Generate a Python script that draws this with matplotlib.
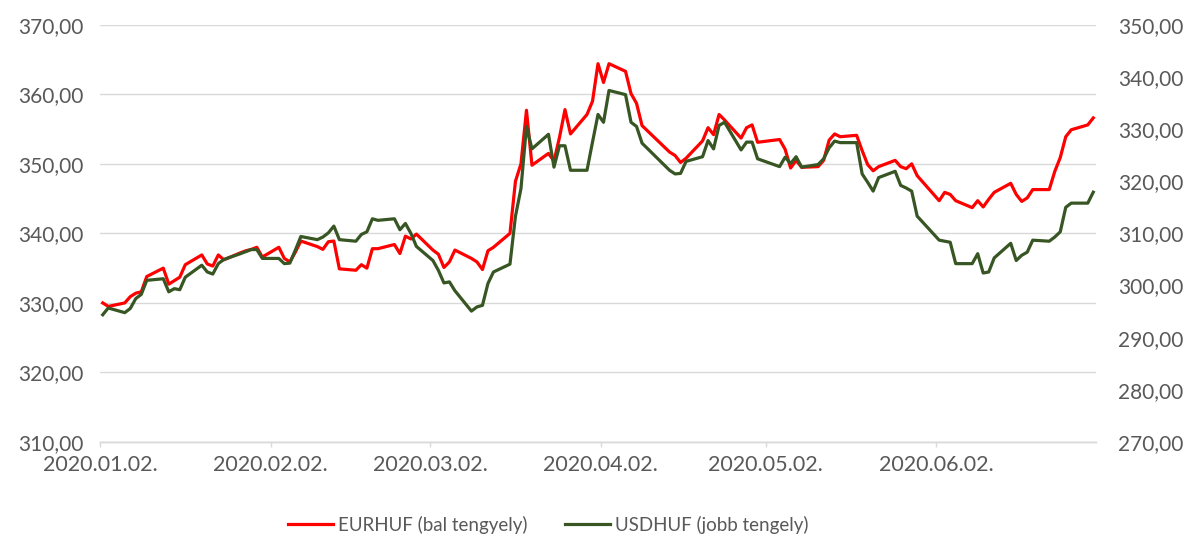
import numpy as np
import pandas as pd
import matplotlib
matplotlib.use("Agg")
import matplotlib.pyplot as plt
import matplotlib.dates as mdates
from matplotlib.ticker import FuncFormatter, MultipleLocator

plt.rcParams['font.family'] = ['Lato', 'DejaVu Sans']

# business days, 2020 H1
dates = [
    "01-02", "01-03", "01-06", "01-07", "01-08", "01-09", "01-10", "01-13", "01-14", "01-15",
    "01-16", "01-17", "01-20", "01-21", "01-22", "01-23", "01-24", "01-27", "01-28", "01-29",
    "01-30", "01-31",
    "02-03", "02-04", "02-05", "02-06", "02-07", "02-10", "02-11", "02-12", "02-13", "02-14",
    "02-17", "02-18", "02-19", "02-20", "02-21", "02-24", "02-25", "02-26", "02-27", "02-28",
    "03-02", "03-03", "03-04", "03-05", "03-06", "03-09", "03-10", "03-11", "03-12", "03-13",
    "03-16", "03-17", "03-18", "03-19", "03-20", "03-23", "03-24", "03-25", "03-26", "03-27",
    "03-30", "03-31",
    "04-01", "04-02", "04-03", "04-06", "04-07", "04-08", "04-09", "04-14", "04-15", "04-16",
    "04-17", "04-20", "04-21", "04-22", "04-23", "04-24", "04-27", "04-28", "04-29", "04-30",
    "05-04", "05-05", "05-06", "05-07", "05-08", "05-11", "05-12", "05-13", "05-14", "05-15",
    "05-18", "05-19", "05-20", "05-21", "05-22", "05-25", "05-26", "05-27", "05-28", "05-29",
    "06-02", "06-03", "06-04", "06-05", "06-08", "06-09", "06-10", "06-11", "06-12", "06-15",
    "06-16", "06-17", "06-18", "06-19", "06-22", "06-23", "06-24", "06-25", "06-26", "06-29",
    "06-30",
]

eurhuf = [
    330.0, 329.5, 330.0, 330.9, 331.4, 331.6, 333.8, 335.0, 332.7, 333.2,
    333.7, 335.5, 336.9, 335.6, 335.3, 336.9, 336.2, 337.2, 337.5, 337.7,
    338.0, 336.6,
    338.0, 336.4, 335.9, 337.3, 338.9, 338.1, 337.7, 338.8, 338.9, 334.9,
    334.7, 335.5, 335.0, 337.8, 337.8, 338.4, 337.1, 339.6, 339.2, 339.9,
    337.6, 337.0, 335.1, 335.9, 337.6, 336.4, 335.9, 334.8, 337.5, 338.0,
    340.0, 347.5, 350.0, 357.7, 349.8, 351.5, 350.4, 353.8, 357.8, 354.3,
    357.1, 359.0,
    364.4, 361.7, 364.4, 363.3, 360.1, 358.7, 355.5, 351.7, 351.2, 350.2,
    350.8, 353.3, 355.2, 354.2, 357.1, 356.3, 353.7, 355.2, 355.6, 353.1,
    353.5, 352.1, 349.4, 350.5, 349.5, 349.6, 350.5, 353.4, 354.3, 353.9,
    354.1, 351.9, 349.9, 349.0, 349.6, 350.5, 349.6, 349.3, 350.0, 348.3,
    344.7, 345.9, 345.6, 344.7, 343.7, 344.7, 343.8, 344.9, 345.9, 347.2,
    345.6, 344.6, 345.1, 346.3, 346.3, 348.9, 350.9, 353.9, 354.9, 355.6,
    356.6,
]

usdhuf = [
    294.4, 295.7, 294.8, 295.6, 297.5, 298.3, 301.0, 301.3, 298.8, 299.4,
    299.2, 301.6, 303.9, 302.6, 302.2, 304.2, 305.0, 306.1, 306.5, 306.9,
    306.9, 305.2,
    305.2, 304.2, 304.3, 306.8, 309.4, 308.8, 309.3, 310.1, 311.4, 308.8,
    308.5, 309.8, 310.3, 312.8, 312.5, 312.8, 310.7, 311.9, 310.0, 307.5,
    304.8, 302.9, 300.5, 300.7, 299.0, 295.1, 295.9, 296.2, 300.4, 302.6,
    304.1, 313.3, 318.6, 330.5, 326.2, 329.0, 322.7, 326.8, 326.8, 322.1,
    322.1, 327.5,
    332.8, 331.3, 337.4, 336.6, 331.3, 330.5, 327.3, 322.1, 321.4, 321.5,
    323.8, 324.7, 327.8, 326.2, 330.7, 331.3, 326.0, 327.5, 327.5, 324.3,
    322.8, 324.6, 323.4, 324.7, 322.7, 323.2, 324.3, 326.4, 327.7, 327.4,
    327.4, 321.4, 319.8, 318.1, 320.7, 321.9, 319.2, 318.7, 318.1, 313.3,
    308.7, 308.5, 308.3, 304.2, 304.2, 306.1, 302.4, 302.6, 305.3, 308.1,
    304.8, 305.8, 306.4, 308.7, 308.5, 309.3, 310.3, 315.0, 315.8, 315.8,
    317.9,
]

tick_dates = ["2020-01-02", "2020-02-02", "2020-03-02", "2020-04-02", "2020-05-02", "2020-06-02"]

# excel date axis puts each point in the middle of its day
x = pd.to_datetime(["2020-" + d for d in dates]) + pd.Timedelta(hours=12)

text_col = "#595959"
grid_col = "#D9D9D9"

fig = plt.figure(figsize=(11.89, 5.38), dpi=100)
ax = fig.add_axes([0.0841, 0.1784, 0.9218 - 0.0841, 0.954 - 0.1784])
ax2 = ax.twinx()

l1, = ax.plot(x, eurhuf, color="#FF0000", lw=2.3, label="EURHUF (bal tengyely)")
l2, = ax2.plot(x, usdhuf, color="#375623", lw=2.3, label="USDHUF (jobb tengely)")

ax.set_xlim(pd.Timestamp("2020-01-02"), pd.Timestamp("2020-07-01"))
ax.set_ylim(310, 370)
ax2.set_ylim(270, 350)
ax.yaxis.set_major_locator(MultipleLocator(10))
ax2.yaxis.set_major_locator(MultipleLocator(10))

fmt = FuncFormatter(lambda v, p: f"{v:.2f}".replace(".", ","))
ax.yaxis.set_major_formatter(fmt)
ax2.yaxis.set_major_formatter(fmt)

ax.set_xticks(pd.to_datetime(tick_dates))
ax.xaxis.set_major_formatter(mdates.DateFormatter("%Y.%m.%d."))

ax.grid(axis="y", color=grid_col, lw=1.0)
ax.set_axisbelow(True)

for a in (ax, ax2):
    for s in ("top", "left", "right"):
        a.spines[s].set_visible(False)
    a.spines["bottom"].set_color(grid_col)
    a.spines["bottom"].set_linewidth(1.0)

# pads in points (px * 0.72)
ax.tick_params(axis="y", length=0, pad=12, labelsize=15, labelcolor=text_col)
ax2.tick_params(axis="y", length=0, pad=16, labelsize=15, labelcolor=text_col)
ax.tick_params(axis="x", length=3.6, width=1.0, color=grid_col, pad=6,
               labelsize=15.5, labelcolor=text_col)

fig.legend(handles=[l1, l2], loc="center", bbox_to_anchor=(0.461, 0.025),
           ncol=2, frameon=False, fontsize=13.5, labelcolor=text_col,
           handlelength=2.4, handletextpad=0.25, columnspacing=2.0)

fig.savefig("out.png", dpi=100)
